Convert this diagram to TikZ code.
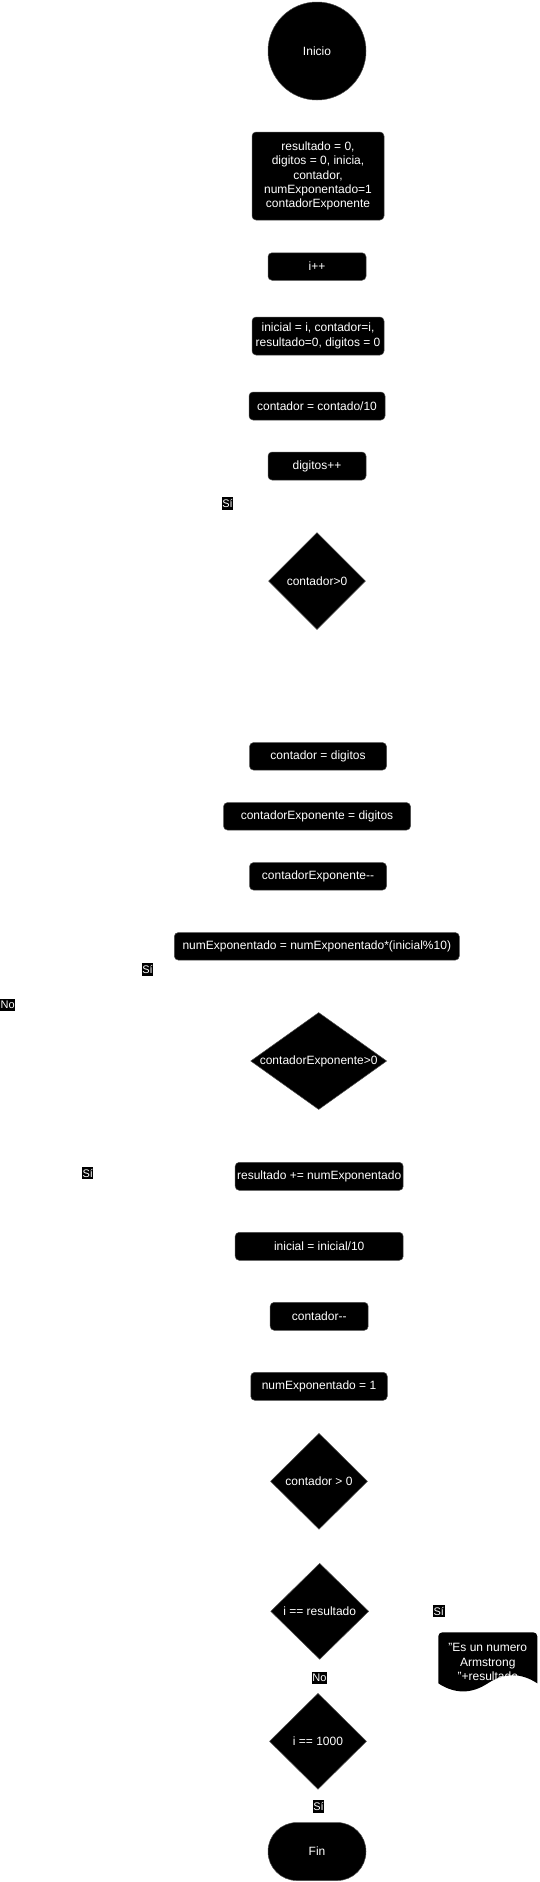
\documentclass[tikz,border=0pt]{standalone}
\usepackage{fontspec}
\setmainfont{Liberation Sans}
\usetikzlibrary{shapes.geometric}
\begin{document}
\begin{tikzpicture}[x=1pt,y=-1pt,
  txt/.style={text=white, font=\fontsize{12}{14.4}\selectfont},
  proc/.style={txt, rectangle, rounded corners=4pt, fill=black, draw=black!70, line width=0.5pt, align=center, inner sep=0pt},
  dec/.style={txt, diamond, fill=black, draw=black!70, line width=0.5pt, inner sep=0pt},
  term/.style={txt, fill=black, draw=black!70, line width=0.5pt, inner sep=0pt},
  lbl/.style={fill=black, text=white, font=\fontsize{11}{13}\selectfont, inner sep=0.6pt, minimum height=12.4pt}
]
\useasboundingbox (0,0) rectangle (539,1882);

\node[term, circle, minimum size=98pt] (inicio) at (317,51) {Inicio};
\node[proc, minimum width=132pt, minimum height=88pt] (b1) at (318,176)
  {resultado = 0,\\digitos = 0, inicia,\\contador,\\numExponentado=1\\contadorExponente};
\node[proc, minimum width=98pt, minimum height=27.5pt] (b2) at (317,266.5) {i++};
\node[proc, minimum width=132pt, minimum height=38pt] (b3) at (318,336)
  {inicial = i, contador=i,\\resultado=0, digitos = 0};
\node[proc, minimum width=136pt, minimum height=28pt] (b4) at (317,406) {contador = contado/10};
\node[proc, minimum width=98pt, minimum height=28pt] (b5) at (317,466) {digitos++};
\node[dec, minimum width=97pt, minimum height=97pt] (d1) at (317,581) {\makebox[0pt]{contador>0}};

\node[proc, minimum width=137pt, minimum height=27.5pt] (b6) at (318,756.3) {contador = digitos};
\node[proc, minimum width=187pt, minimum height=27.5pt] (b7) at (317,816.3) {contadorExponente = digitos};
\node[proc, minimum width=137pt, minimum height=27.5pt] (b8) at (318,876.3) {contadorExponente-{}-};
\node[proc, minimum width=285pt, minimum height=27.5pt] (b9) at (316.8,946.3) {numExponentado = numExponentado*(inicial\%10)};
\node[dec, minimum width=136pt, minimum height=97pt] (d2) at (318.7,1061) {\makebox[0pt]{contadorExponente>0}};

\node[proc, minimum width=168pt, minimum height=28pt] (b10) at (319.2,1176.3) {resultado += numExponentado};
\node[proc, minimum width=168pt, minimum height=28pt] (b11) at (319.2,1246.3) {inicial = inicial/10};
\node[proc, minimum width=98pt, minimum height=28pt] (b12) at (319.2,1316.3) {contador-{}-};
\node[proc, minimum width=136.5pt, minimum height=28pt] (b13) at (319,1386.3) {numExponentado = 1};

\node[dec, minimum width=97pt, minimum height=96pt] (d3) at (319,1481.3) {\makebox[0pt]{contador > 0}};
\node[dec, minimum width=98pt, minimum height=96pt] (d4) at (319.7,1611.3) {\makebox[0pt]{i == resultado}};
\node[dec, minimum width=97pt, minimum height=96pt] (d5) at (318,1741.3) {\makebox[0pt]{i == 1000}};
\node[term, rectangle, rounded corners=28.9pt, minimum width=98pt, minimum height=58pt] (fin) at (317,1851.5) {Fin};

% document shape
\fill[black] (438.3,1683.3) [rounded corners=4pt] -- (438.3,1632.3) -- (537.3,1632.3) [sharp corners] -- (537.3,1683.3)
  .. controls (520.8,1672.5) and (504.3,1672.5) .. (487.8,1683.3)
  .. controls (471.3,1694.1) and (454.8,1694.1) .. (438.3,1683.3) -- cycle;
\node[txt, align=center, inner sep=0pt] (doc) at (487.8,1662.3) {"Es un numero\\Armstrong\\"+resultado};

% labels
\node[lbl] (l1) at (227.5,503.3) {Sí};
\node[lbl] (l2) at (147.5,969.5) {Sí};
\node[lbl] (l3) at (7.6,1005) {No};
\node[lbl] (l4) at (87.7,1173) {Sí};
\node[lbl] (l5) at (438.7,1611.2) {Sí};
\node[lbl] (l6) at (319.5,1677.8) {No};
\node[lbl] (l7) at (318.5,1806.5) {Sí};
\end{tikzpicture}
\end{document}
